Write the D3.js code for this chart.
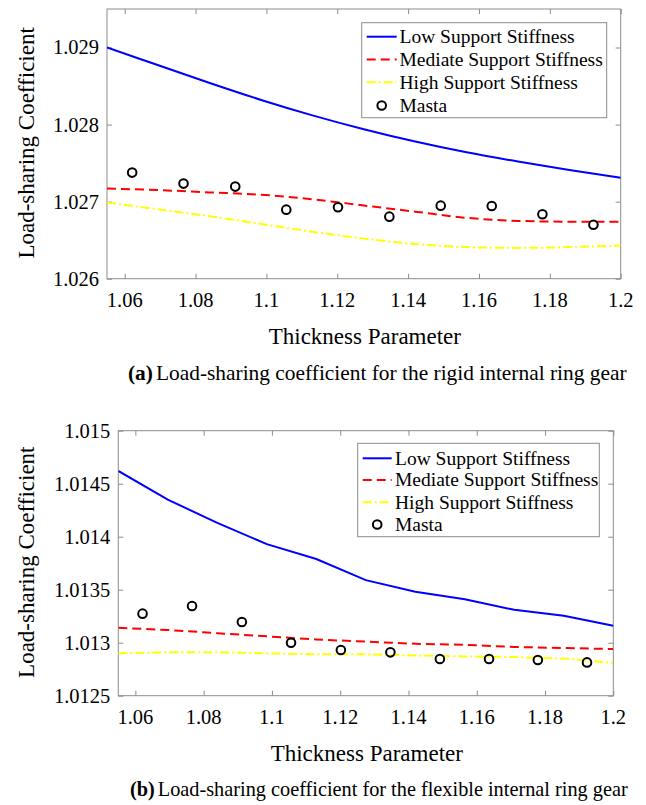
<!DOCTYPE html>
<html>
<head>
<meta charset="utf-8">
<script src="https://cdn.jsdelivr.net/npm/d3@7/dist/d3.min.js"></script>
<style>
  html, body { margin: 0; padding: 0; background: #fff; }
  svg { display: block; }
  text { font-family: "Liberation Serif", "Times New Roman", serif; fill: #000; }
</style>
</head>
<body>
<svg id="chart" width="646" height="805"></svg>
<script>
// ---------- data ----------
const thickness = [1.055, 1.0695, 1.084, 1.0985, 1.113, 1.1275, 1.142, 1.1565, 1.171, 1.1855, 1.2];

// (a) rigid internal ring gear
const rigidLow      = [1.02900, 1.02877, 1.02854, 1.02832, 1.02812, 1.02794, 1.02778, 1.02764, 1.02752, 1.02741, 1.02731];
const rigidMediate  = [1.02717, 1.02715, 1.02712, 1.02709, 1.02703, 1.02695, 1.02687, 1.02679, 1.02675, 1.02674, 1.02674];
const rigidHigh     = [1.02699, 1.02690, 1.02681, 1.02671, 1.02661, 1.02652, 1.02645, 1.02641, 1.02640, 1.02641, 1.02643];

// (b) flexible internal ring gear
const flexLow       = [1.01462, 1.01435, 1.01413, 1.01393, 1.01379, 1.01359, 1.01348, 1.01341, 1.01331, 1.013255, 1.01316];
const flexMediate   = [1.01314, 1.01312, 1.01309, 1.01306, 1.01303, 1.01301, 1.01299, 1.01298, 1.01296, 1.01295, 1.01294];
const flexHigh      = [1.01290, 1.01291, 1.01291, 1.01290, 1.01289, 1.01289, 1.01288, 1.01287, 1.012865, 1.01285, 1.01281];

// Masta points
const mastaX        = [1.0621, 1.0766, 1.0912, 1.1056, 1.1202, 1.1347, 1.1492, 1.1636, 1.1779, 1.1923];
const rigidMasta    = [1.027377, 1.027234, 1.027195, 1.026896, 1.026927, 1.026805, 1.026948, 1.026944, 1.026836, 1.026701];
const flexMasta     = [1.013274, 1.013346, 1.013195, 1.013000, 1.012931, 1.012909, 1.012846, 1.012846, 1.012837, 1.012814];

// ticks
const xTicks        = [1.06, 1.08, 1.1, 1.12, 1.14, 1.16, 1.18, 1.2];
const xTickLabels   = ["1.06", "1.08", "1.1", "1.12", "1.14", "1.16", "1.18", "1.2"];
const rigidYTicks   = [1.026, 1.027, 1.028, 1.029];
const rigidYLabels  = ["1.026", "1.027", "1.028", "1.029"];
const flexYTicks    = [1.0125, 1.013, 1.0135, 1.014, 1.0145, 1.015];
const flexYLabels   = ["1.0125", "1.013", "1.0135", "1.014", "1.0145", "1.015"];

const xDomain       = [1.055, 1.2];
const rigidYDomain  = [1.026, 1.0295];
const flexYDomain   = [1.0125, 1.015];

const seriesNames   = ["Low Support Stiffness", "Mediate Support Stiffness", "High Support Stiffness", "Masta"];
const xTitle        = "Thickness Parameter";
const yTitle        = "Load-sharing Coefficient";
const captionTags   = ["(a)", "(b)"];
const captionTexts  = ["Load-sharing coefficient for the rigid internal ring gear",
                       "Load-sharing coefficient for the flexible internal ring gear"];

// ---------- styles ----------
const lineStyles = [
  { color: "#0000ff", dash: null,        width: 2 },
  { color: "#ff0000", dash: "9,5",       width: 2 },
  { color: "#ffff00", dash: "9,3,2,3",   width: 2 }
];
const svg = d3.select("#chart");

function drawPanel(cfg) {
  const g = svg.append("g");
  const x = d3.scaleLinear().domain(xDomain).range([cfg.left, cfg.right]);
  const y = d3.scaleLinear().domain(cfg.yDomain).range([cfg.bottom, cfg.top]);
  const tickLen = 5;
  const axisColor = "#8c8c8c";

  const clipId = "clip" + cfg.id;
  svg.append("defs").append("clipPath").attr("id", clipId)
    .append("rect").attr("x", cfg.left).attr("y", cfg.top)
    .attr("width", cfg.right - cfg.left).attr("height", cfg.bottom - cfg.top);

  // axes (ticks inward, mirrored on all four sides)
  g.append("g").attr("transform", `translate(0,${cfg.bottom})`).call(d3.axisBottom(x).tickValues(xTicks).tickSize(-tickLen).tickFormat(""));
  g.append("g").attr("transform", `translate(0,${cfg.top})`).call(d3.axisTop(x).tickValues(xTicks).tickSize(-tickLen).tickFormat(""));
  g.append("g").attr("transform", `translate(${cfg.left},0)`).call(d3.axisLeft(y).tickValues(cfg.yTicks).tickSize(-tickLen).tickFormat(""));
  g.append("g").attr("transform", `translate(${cfg.right},0)`).call(d3.axisRight(y).tickValues(cfg.yTicks).tickSize(-tickLen).tickFormat(""));
  g.selectAll(".domain").remove();
  g.selectAll(".tick line").attr("stroke", axisColor).attr("stroke-width", 1);

  // box
  g.append("rect").attr("x", cfg.left).attr("y", cfg.top)
    .attr("width", cfg.right - cfg.left).attr("height", cfg.bottom - cfg.top)
    .attr("fill", "none").attr("stroke", axisColor).attr("stroke-width", 1);

  // tick labels
  g.append("g").selectAll("text").data(xTicks).join("text")
    .attr("x", d => x(d)).attr("y", cfg.bottom + 28)
    .attr("text-anchor", "middle").style("font-size", "20.5px")
    .text((d, i) => xTickLabels[i]);
  g.append("g").selectAll("text").data(cfg.yTicks).join("text")
    .attr("x", cfg.left - 8).attr("y", d => y(d)).attr("dy", "0.34em")
    .attr("text-anchor", "end").style("font-size", "20.5px")
    .text((d, i) => cfg.yLabels[i]);

  // axis titles
  g.append("text").attr("x", (cfg.left + cfg.right) / 2 + 1).attr("y", cfg.xTitleY)
    .attr("text-anchor", "middle").style("font-size", "23px").text(xTitle);
  g.append("text")
    .attr("transform", `translate(33.5,${(cfg.top + cfg.bottom) / 2 - 1}) rotate(-90)`)
    .attr("text-anchor", "middle").style("font-size", "23px").text(yTitle);

  // caption
  const cap = g.append("text").attr("x", cfg.capX).attr("y", cfg.capY).style("font-size", cfg.capSize);
  cap.append("tspan").style("font-weight", "bold").text(cfg.tag);
  cap.append("tspan").attr("dx", 3).text(cfg.caption);

  // lines
  const plot = g.append("g").attr("clip-path", `url(#${clipId})`);
  const lineG = d3.line().x((d, i) => x(thickness[i])).y(d => y(d)).curve(cfg.curve);
  cfg.series.forEach((s, k) => {
    plot.append("path").datum(s)
      .attr("d", lineG)
      .attr("fill", "none")
      .attr("stroke", lineStyles[k].color)
      .attr("stroke-width", lineStyles[k].width)
      .attr("stroke-dasharray", lineStyles[k].dash);
  });

  // masta
  plot.append("g").selectAll("circle").data(cfg.masta).join("circle")
    .attr("cx", (d, i) => x(mastaX[i])).attr("cy", d => y(d)).attr("r", 4.3)
    .attr("fill", "none").attr("stroke", "#000").attr("stroke-width", 2);

  // legend
  const L = cfg.legend;
  g.append("rect").attr("x", L.x0).attr("y", L.y0).attr("width", L.x1 - L.x0).attr("height", L.y1 - L.y0)
    .attr("fill", "#fff").attr("stroke", axisColor).attr("stroke-width", 1);
  seriesNames.forEach((name, k) => {
    const cy = L.rows[k];
    if (k < 3) {
      g.append("line").attr("x1", L.lx0).attr("x2", L.lx1).attr("y1", cy).attr("y2", cy)
        .attr("stroke", lineStyles[k].color).attr("stroke-width", lineStyles[k].width)
        .attr("stroke-dasharray", lineStyles[k].dash);
    } else {
      g.append("circle").attr("cx", (L.lx0 + L.lx1) / 2).attr("cy", cy).attr("r", 4.3)
        .attr("fill", "none").attr("stroke", "#000").attr("stroke-width", 2);
    }
    g.append("text").attr("x", L.tx).attr("y", cy).attr("dy", "0.33em")
      .style("font-size", "19.5px").text(name);
  });
}

drawPanel({
  id: "a", left: 107, right: 620.7, top: 9, bottom: 278.7,
  yDomain: rigidYDomain, yTicks: rigidYTicks, yLabels: rigidYLabels,
  series: [rigidLow, rigidMediate, rigidHigh], masta: rigidMasta,
  curve: d3.curveMonotoneX,
  xTitleY: 344, capX: 128, capY: 380, capSize: "21.4px", tag: captionTags[0], caption: captionTexts[0],
  legend: { x0: 361.7, y0: 22.7, x1: 606.7, y1: 117.7, rows: [36.7, 59.5, 82.3, 105.5], lx0: 366.7, lx1: 396.7, tx: 399.5 }
});

drawPanel({
  id: "b", left: 118.3, right: 613.3, top: 430.7, bottom: 695.7,
  yDomain: flexYDomain, yTicks: flexYTicks, yLabels: flexYLabels,
  series: [flexLow, flexMediate, flexHigh], masta: flexMasta,
  curve: d3.curveLinear,
  xTitleY: 760.5, capX: 130, capY: 796, capSize: "20.3px", tag: captionTags[1], caption: captionTexts[1],
  legend: { x0: 357.7, y0: 443.3, x1: 599.3, y1: 536.7, rows: [458.3, 480, 502.3, 524.5], lx0: 362.7, lx1: 391.7, tx: 395 }
});
</script>
</body>
</html>
